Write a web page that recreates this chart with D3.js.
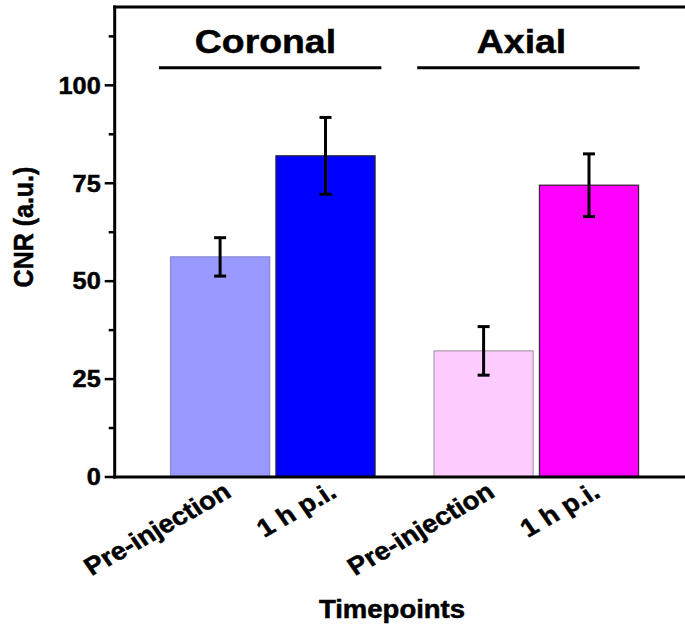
<!DOCTYPE html>
<html>
<head>
<meta charset="utf-8">
<script src="https://cdn.jsdelivr.net/npm/d3@7/dist/d3.min.js"></script>
<style>
  html, body { margin: 0; padding: 0; background: #fff; }
  svg { display: block; font-family: "Liberation Sans", Arial, sans-serif; font-weight: bold; }
  svg text { stroke: #000; stroke-width: 0.5px; fill: #000; }
</style>
</head>
<body>
<svg id="chart" width="685" height="628"></svg>
<script>
// CNR per acquisition plane, before injection and 1 h post-injection
const categories = ["Pre-injection", "1 h p.i.", "Pre-injection", "1 h p.i."];
const groups = ["Coronal", "Coronal", "Axial", "Axial"];
const cnrValues = [56.2, 82.0, 32.2, 74.5];
const cnrErrors = [4.9, 9.8, 6.2, 8.0];
const barColors = ["#9999ff", "#0000ff", "#ffccff", "#ff00ff"];
const barStrokes = ["#8a8ad8", "#222244", "#b0a0b0", "#442244"];
const yTicks = [0, 25, 50, 75, 100];
const yMinorTicks = [12.5, 37.5, 62.5, 87.5, 112.5];

// bar slots on the category axis (pairs within a group, wider gap between groups)
const slots = [1, 2, 3.5, 4.5];
// header rule spans per group, in category-axis units
const groupSpans = [
  { name: "Coronal", from: 0.42, to: 2.53, labelAt: 1.43 },
  { name: "Axial", from: 2.87, to: 4.98, labelAt: 3.86 }
];

const svg = d3.select("#chart");
const stretch = 1.1; // glyphs are drawn slightly wide

const x = d3.scaleLinear().domain([0, 5.5]).range([114.7, 114.7 + 5.5 * 105.4]);
const y = d3.scaleLinear().domain([0, 120]).range([477, 7]);
const barW = 0.94 * 105.4;

// bars
svg.append("g").selectAll("rect")
  .data(cnrValues)
  .join("rect")
  .attr("x", (d, i) => x(slots[i]) - barW / 2)
  .attr("y", d => y(d))
  .attr("width", barW)
  .attr("height", d => y(0) - y(d))
  .attr("fill", (d, i) => barColors[i])
  .attr("stroke", (d, i) => barStrokes[i])
  .attr("stroke-width", 1.3);

// error bars
const eb = svg.append("g").attr("stroke", "#000").attr("stroke-width", 3);
cnrValues.forEach((v, i) => {
  const cx = x(slots[i]);
  const hi = y(v + cnrErrors[i]), lo = y(v - cnrErrors[i]);
  eb.append("line").attr("x1", cx).attr("x2", cx).attr("y1", hi).attr("y2", lo);
  eb.append("line").attr("x1", cx - 6).attr("x2", cx + 6).attr("y1", hi).attr("y2", hi);
  eb.append("line").attr("x1", cx - 6).attr("x2", cx + 6).attr("y1", lo).attr("y2", lo);
});

// frame: left axis, bottom axis, top border
const frame = svg.append("g").attr("stroke", "#000").attr("stroke-width", 3).attr("fill", "none");
frame.append("line").attr("x1", x(0)).attr("x2", x(0)).attr("y1", y(120) - 1.5).attr("y2", y(0) + 1.5);
frame.append("line").attr("x1", x(0) - 1.5).attr("x2", 685).attr("y1", y(0)).attr("y2", y(0));
frame.append("line").attr("x1", x(0) - 1.5).attr("x2", 685).attr("y1", y(120)).attr("y2", y(120));

// y ticks
const tk = svg.append("g").attr("stroke", "#000").attr("stroke-width", 2.5);
yTicks.forEach(t => tk.append("line").attr("x1", x(0) - 10).attr("x2", x(0)).attr("y1", y(t)).attr("y2", y(t)));
yMinorTicks.forEach(t => tk.append("line").attr("x1", x(0) - 6).attr("x2", x(0)).attr("y1", y(t)).attr("y2", y(t)));

svg.append("g").selectAll("text")
  .data(yTicks)
  .join("text")
  .attr("transform", d => `translate(${x(0) - 14},${y(d)}) scale(${stretch},1)`)
  .attr("text-anchor", "end")
  .attr("dy", "0.36em")
  .attr("font-size", 23)
  .text(d => d);

// category labels, rotated
svg.append("g").selectAll("text")
  .data(categories)
  .join("text")
  .attr("transform", (d, i) => `translate(${x(slots[i]) + 1},${y(0) + 2}) scale(${stretch},1) rotate(-32)`)
  .attr("text-anchor", "end")
  .attr("dy", "0.8em")
  .attr("font-size", 25)
  .text(d => d);

// group headers with rules
groupSpans.forEach(g => {
  svg.append("line")
    .attr("x1", x(g.from)).attr("x2", x(g.to))
    .attr("y1", 67.7).attr("y2", 67.7)
    .attr("stroke", "#000").attr("stroke-width", 3);
  svg.append("text")
    .attr("transform", `translate(${x(g.labelAt)},53) scale(${stretch},1)`)
    .attr("text-anchor", "middle")
    .attr("font-size", 34)
    .text(g.name);
});

// axis titles
svg.append("text")
  .attr("transform", `translate(392,618) scale(${stretch},1)`)
  .attr("text-anchor", "middle")
  .attr("font-size", 25)
  .text("Timepoints");

svg.append("text")
  .attr("transform", `translate(33,227) scale(${stretch},1) rotate(-90)`)
  .attr("text-anchor", "middle")
  .attr("font-size", 25)
  .text("CNR (a.u.)");
</script>
</body>
</html>
